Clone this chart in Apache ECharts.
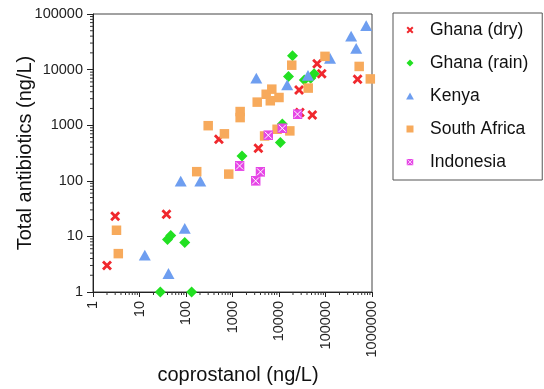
<!DOCTYPE html>
<html>
<head>
<meta charset="utf-8">
<title>Antibiotics vs coprostanol</title>
<script src="https://cdn.jsdelivr.net/npm/echarts@6/dist/echarts.min.js"></script>
<style>
  html, body { margin: 0; padding: 0; background: #fff; }
</style>
</head>
<body>
<div id="main" style="width: 544px; height: 389px;"></div>
<script type="text/javascript">
// values, [coprostanol, total antibiotics] in ng/L
var ghanaDry = [
  [2, 3], [3, 23], [38, 25], [510, 560], [3600, 385], [27000, 4300],
  [28000, 1700], [52000, 1530], [66000, 12700], [83000, 8400], [490000, 6700]
];
var ghanaRain = [
  [28, 1], [132, 1], [40, 8.8], [47, 10.4], [94, 7.8], [1600, 280],
  [10700, 490], [11800, 1050], [16000, 7500], [19500, 17700],
  [35000, 6500], [48000, 7000], [57000, 8400]
];
var kenya = [
  [13, 4.6], [42, 2.15], [94, 14], [77, 99], [203, 99], [3250, 7000],
  [15000, 5300], [42000, 7900], [125000, 16000], [356000, 40000],
  [457000, 24000], [750000, 62000]
];
var southAfrica = [
  [3.2, 12.9], [3.5, 4.9], [170, 146], [300, 980], [670, 700], [830, 132],
  [1460, 1760], [1460, 1370], [3400, 2600], [5300, 3600], [6500, 2750],
  [7000, 4450], [10000, 3150], [18800, 12000], [42500, 4650],
  [97500, 17300], [530000, 11400], [920000, 6800], [4900, 640],
  [9100, 845], [17100, 790]
];
var indonesia = [
  [1420, 185], [3150, 100], [4000, 145], [5900, 660], [11800, 880], [25000, 1580]
];

var seriesNames = ['Ghana (dry)', 'Ghana (rain)', 'Kenya', 'South Africa', 'Indonesia'];
var xTickLabels = ['1', '10', '100', '1000', '10000', '100000', '1000000'];
var yTickLabels = ['1', '10', '100', '1000', '10000', '100000'];
var minorSteps = [2, 3, 4, 5, 6, 7, 8, 9];

var font = 'Liberation Sans, Arial, Helvetica, sans-serif';

// minor ticks at 2..9 of every decade
var xMinor = [], yMinor = [];
for (var d = 0; d < 6; d++) {
  for (var k = 0; k < minorSteps.length; k++) {
    var v = minorSteps[k] * Math.pow(10, d);
    xMinor.push([v, 1]);
    if (d < 5) yMinor.push([1, v]);
  }
}

// path symbols keep their aspect in the legend as well
var crossPath = 'path://M0,2 L2,0 L5,3 L8,0 L10,2 L7,5 L10,8 L8,10 L5,7 L2,10 L0,8 L3,5 Z';
var diamondPath = 'path://M5,0 L10,5 L5,10 L0,5 Z';
var trianglePath = 'path://M5,0 L10,9 L0,9 Z';
var squarePath = 'path://M0,0 L10,0 L10,10 L0,10 Z';
var boxX = 'image://data:image/svg+xml;charset=utf-8,' + encodeURIComponent(
  "<svg xmlns='http://www.w3.org/2000/svg' width='20' height='20'>" +
  "<rect width='20' height='20' fill='#e646e6'/>" +
  "<path d='M3,3L17,17M17,3L3,17' stroke='#ffffff' stroke-width='2'/></svg>");

function minorTickSeries(data, isX) {
  return {
    type: 'custom',
    silent: true,
    clip: false,
    data: data,
    z: 1,
    renderItem: function (params, api) {
      var p = api.coord([api.value(0), api.value(1)]);
      var shape = isX
        ? { x1: p[0], y1: p[1], x2: p[0], y2: p[1] + 3 }
        : { x1: p[0] - 3, y1: p[1], x2: p[0], y2: p[1] };
      return { type: 'line', shape: shape, style: { stroke: '#333', lineWidth: 1 } };
    }
  };
}

var myChart = echarts.init(document.getElementById('main'));

var option = {
  backgroundColor: '#fff',
  animation: false,
  grid: {
    left: 93, right: 172, top: 14, bottom: 97,
    outerBoundsMode: 'none',
    show: true, borderColor: '#444', borderWidth: 1
  },
  legend: {
    data: seriesNames,
    orient: 'vertical',
    left: 393, top: 13,
    itemWidth: 30, itemHeight: 7, itemGap: 13,
    padding: [7, 14, 8, 2],
    borderColor: '#555', borderWidth: 1,
    backgroundColor: '#fff',
    textStyle: { fontFamily: font, fontSize: 17.5, color: '#111', lineHeight: 20 }
  },
  xAxis: {
    type: 'log', logBase: 10, min: 1, max: 1000000,
    name: 'coprostanol (ng/L)',
    nameLocation: 'middle', nameGap: 73, nameMoveOverlap: false,
    nameTextStyle: { fontFamily: font, fontSize: 20, color: '#111', padding: [0, 0, 0, 11] },
    axisLine: { lineStyle: { color: '#222' } },
    axisTick: { length: 5, lineStyle: { color: '#222' } },
    splitLine: { show: false },
    axisLabel: {
      rotate: 90, margin: 9,
      fontFamily: font, fontSize: 14.5, color: '#222',
      formatter: function (v, i) { return xTickLabels[i]; }
    }
  },
  yAxis: {
    type: 'log', logBase: 10, min: 1, max: 100000,
    name: 'Total antibiotics (ng/L)',
    nameLocation: 'middle', nameGap: 58, nameMoveOverlap: false,
    nameTextStyle: { fontFamily: font, fontSize: 20, color: '#111' },
    axisLine: { show: true, lineStyle: { color: '#222' } },
    axisTick: { show: true, length: 6, lineStyle: { color: '#222' } },
    splitLine: { show: false },
    axisLabel: {
      margin: 10,
      fontFamily: font, fontSize: 14.5, color: '#222',
      formatter: function (v, i) { return yTickLabels[i]; }
    }
  },
  series: [
    {
      name: seriesNames[0], type: 'scatter', data: ghanaDry, clip: false,
      symbol: crossPath, symbolSize: 10, symbolKeepAspect: true,
      itemStyle: { color: '#f0282d', opacity: 1 }
    },
    {
      name: seriesNames[1], type: 'scatter', data: ghanaRain, clip: false,
      symbol: diamondPath, symbolSize: 11, symbolKeepAspect: true,
      itemStyle: { color: '#22e022', opacity: 1 }
    },
    {
      name: seriesNames[2], type: 'scatter', data: kenya, clip: false,
      symbol: trianglePath, symbolSize: 12, symbolKeepAspect: true,
      itemStyle: { color: '#6e9ef0', opacity: 1 }
    },
    {
      name: seriesNames[3], type: 'scatter', data: southAfrica, clip: false,
      symbol: squarePath, symbolSize: 9.5, symbolKeepAspect: true,
      itemStyle: { color: '#f7aa5c', opacity: 1 }
    },
    {
      name: seriesNames[4], type: 'scatter', data: indonesia, clip: false,
      symbol: boxX, symbolSize: 10, symbolKeepAspect: true,
      itemStyle: { color: '#e646e6', opacity: 1 }
    },
    minorTickSeries(xMinor, true),
    minorTickSeries(yMinor, false)
  ]
};

myChart.setOption(option);
</script>
</body>
</html>
